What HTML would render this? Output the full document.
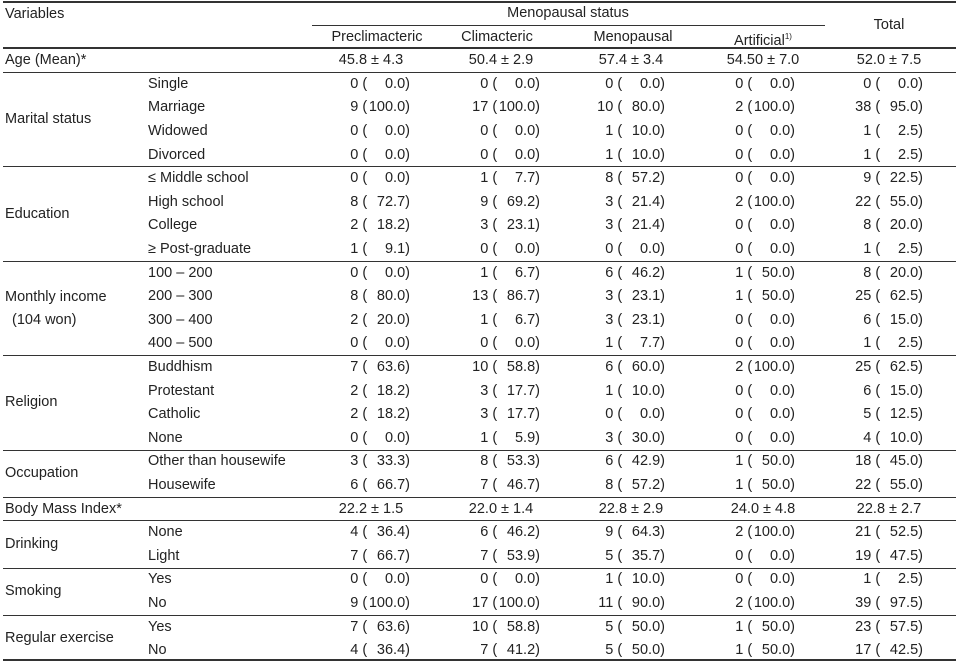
<!DOCTYPE html>
<html><head><meta charset="utf-8"><style>
body{margin:0;background:#fff;}
#t{position:relative;width:956px;height:665px;font-family:"Liberation Sans",sans-serif;font-size:14.5px;color:#222;overflow:hidden;}
.a{position:absolute;white-space:pre;line-height:16px;}
.ln{position:absolute;background:#333;}
.c{display:inline-block;text-align:right;}
</style></head><body>
<div id="t">
<div class="ln" style="left:3px;top:1px;width:953px;height:2px"></div>
<div class="ln" style="left:312px;top:25px;width:513px;height:1px"></div>
<div class="ln" style="left:3px;top:47px;width:953px;height:2px"></div>
<div class="ln" style="left:3px;top:659px;width:953px;height:2px"></div>
<div class="a" style="left:5px;top:6px">Variables</div>
<div class="a" style="left:568px;top:5px;transform:translateX(-50%)">Menopausal status</div>
<div class="a" style="left:889px;top:17px;transform:translateX(-50%)">Total</div>
<div class="a" style="left:377px;top:29px;transform:translateX(-50%)">Preclimacteric</div>
<div class="a" style="left:497px;top:29px;transform:translateX(-50%)">Climacteric</div>
<div class="a" style="left:633px;top:29px;transform:translateX(-50%)">Menopausal</div>
<div class="a" style="left:763px;top:29px;transform:translateX(-50%)">Artificial<sup style="font-size:8px">1)</sup></div>
</div>
<script>
const groups=[["Age (Mean)*",1],["Marital status",4],["Education",4],["Monthly income",4],["Religion",4],["Occupation",2],["Body Mass Index*",1],["Drinking",2],["Smoking",2],["Regular exercise",2]];
const subs=["","Single","Marriage","Widowed","Divorced","≤ Middle school","High school","College","≥ Post-graduate","100 – 200","200 – 300","300 – 400","400 – 500","Buddhism","Protestant","Catholic","None","Other than housewife","Housewife","","None","Light","Yes","No","Yes","No"];
const counts=[null,[0,0,0,0,0],[9,17,10,2,38],[0,0,1,0,1],[0,0,1,0,1],[0,1,8,0,9],[8,9,3,2,22],[2,3,3,0,8],[1,0,0,0,1],[0,1,6,1,8],[8,13,3,1,25],[2,1,3,0,6],[0,0,1,0,1],[7,10,6,2,25],[2,3,1,0,6],[2,3,0,0,5],[0,1,3,0,4],[3,8,6,1,18],[6,7,8,1,22],null,[4,6,9,2,21],[7,7,5,0,19],[0,0,1,0,1],[9,17,11,2,39],[7,10,5,1,23],[4,7,5,1,17]];
const pcts=[null,["0.0","0.0","0.0","0.0","0.0"],["100.0","100.0","80.0","100.0","95.0"],["0.0","0.0","10.0","0.0","2.5"],["0.0","0.0","10.0","0.0","2.5"],["0.0","7.7","57.2","0.0","22.5"],["72.7","69.2","21.4","100.0","55.0"],["18.2","23.1","21.4","0.0","20.0"],["9.1","0.0","0.0","0.0","2.5"],["0.0","6.7","46.2","50.0","20.0"],["80.0","86.7","23.1","50.0","62.5"],["20.0","6.7","23.1","0.0","15.0"],["0.0","0.0","7.7","0.0","2.5"],["63.6","58.8","60.0","100.0","62.5"],["18.2","17.7","10.0","0.0","15.0"],["18.2","17.7","0.0","0.0","12.5"],["0.0","5.9","30.0","0.0","10.0"],["33.3","53.3","42.9","50.0","45.0"],["66.7","46.7","57.2","50.0","55.0"],null,["36.4","46.2","64.3","100.0","52.5"],["66.7","53.9","35.7","0.0","47.5"],["0.0","0.0","10.0","0.0","2.5"],["100.0","100.0","90.0","100.0","97.5"],["63.6","58.8","50.0","50.0","57.5"],["36.4","41.2","50.0","50.0","42.5"]];
const means={0:["45.8 ± 4.3","50.4 ± 2.9","57.4 ± 3.4","54.50 ± 7.0","52.0 ± 7.5"],19:["22.2 ± 1.5","22.0 ± 1.4","22.8 ± 2.9","24.0 ± 4.8","22.8 ± 2.7"]};
const colRight=[410,540,665,795,923], colCenter=[371,501,631,763,889];
const T=document.getElementById('t');
const y0=48.4, rh=23.6;
function add(txt,x,y,align){const d=document.createElement('div');d.className='a';d.textContent=txt;d.style.top=(y-8)+'px';
 if(align==='c'){d.style.left=x+'px';d.style.transform='translateX(-50%)';}else if(align==='r'){d.style.right=(956-x)+'px';}else d.style.left=x+'px';
 T.appendChild(d);return d;}
let r=0;
groups.forEach((g,gi)=>{
 const yc=y0+rh*(r+g[1]/2);
 let d;
 if(g[0]==="Monthly income"){d=add(g[0],5,yc-11);
  const d2=add(" (104 won)",8,yc+12);}
 else{d=add(g[0],5,yc);}
 r+=g[1];
 if(gi<groups.length-1){const l=document.createElement('div');l.className='ln';l.style.left='3px';l.style.width='953px';l.style.height='1px';l.style.top=Math.round(y0+rh*r)+'px';
  
  
  T.appendChild(l);}
});
subs.forEach((s,i)=>{
 const yc=y0+rh*(i+0.5);
 if(s){const d=add(s,148,yc);}
 if(means[i]){means[i].forEach((m,c)=>{const d=add(m,colCenter[c],yc,'c');});}
 else if(counts[i]){counts[i].forEach((n,c)=>{
  const d=document.createElement('div');d.className='a';d.style.top=(yc-8)+'px';d.style.right=(956-colRight[c])+'px';
  d.innerHTML='<span class="c" style="width:22px">'+n+'</span> (<span class="c" style="width:38px">'+pcts[i][c]+'</span>)';
  
  
  T.appendChild(d);});}
});
</script>
</body></html>
